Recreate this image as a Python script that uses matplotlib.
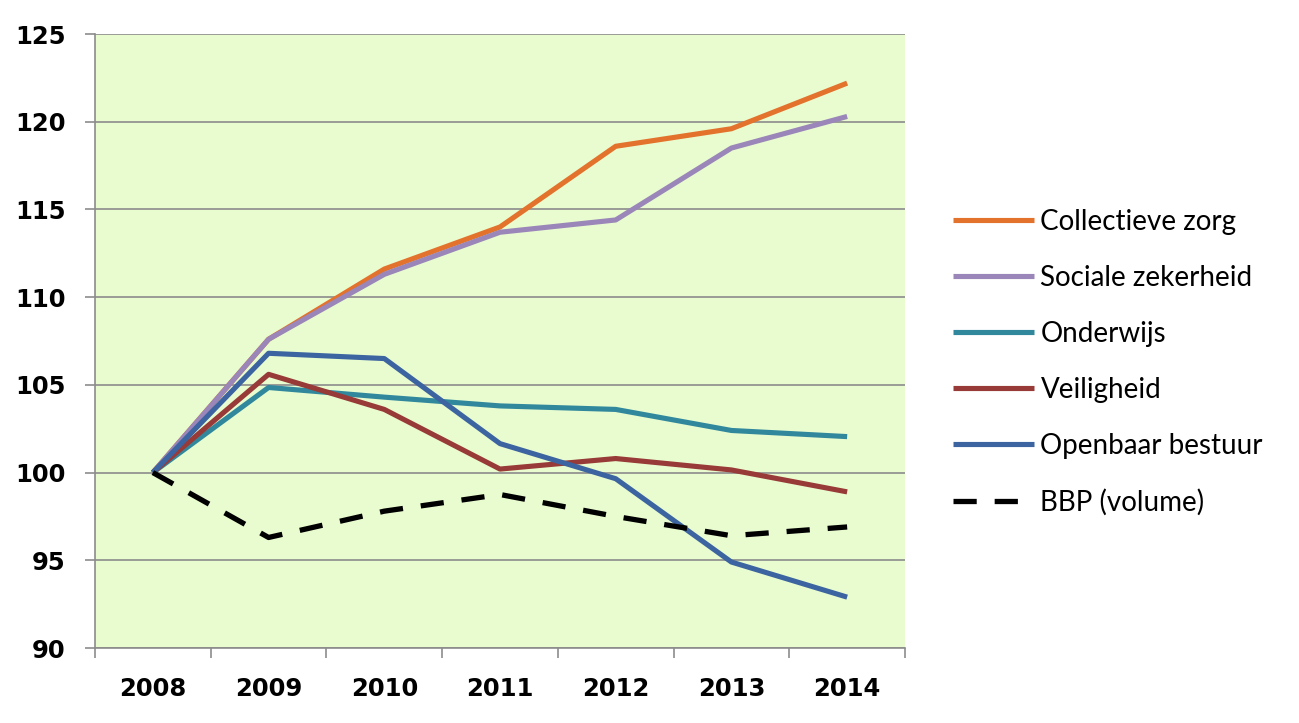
import matplotlib
matplotlib.use("Agg")
import matplotlib.pyplot as plt
from matplotlib.ticker import FixedLocator, NullFormatter

years = ["2008", "2009", "2010", "2011", "2012", "2013", "2014"]
collectieve_zorg = [100, 107.6, 111.6, 114.0, 118.6, 119.6, 122.2]
sociale_zekerheid = [100, 107.6, 111.3, 113.7, 114.4, 118.5, 120.3]
onderwijs = [100, 104.85, 104.3, 103.8, 103.6, 102.4, 102.05]
veiligheid = [100, 105.6, 103.6, 100.2, 100.8, 100.15, 98.9]
openbaar_bestuur = [100, 106.8, 106.5, 101.65, 99.65, 94.9, 92.9]
bbp_volume = [100, 96.3, 97.8, 98.75, 97.5, 96.4, 96.9]

series = [
    ("Collectieve zorg", collectieve_zorg, "#E3722C", "-"),
    ("Sociale zekerheid", sociale_zekerheid, "#9A86B8", "-"),
    ("Onderwijs", onderwijs, "#31889D", "-"),
    ("Veiligheid", veiligheid, "#983A37", "-"),
    ("Openbaar bestuur", openbaar_bestuur, "#3C64A0", "-"),
    ("BBP (volume)", bbp_volume, "#000000", "--"),
]

fig = plt.figure(figsize=(12.99, 7.23), dpi=100)
ax = fig.add_axes([95/1299, 1-648/723, (905-95)/1299, (648-34)/723])
ax.set_facecolor("#E9FCD0")

x = list(range(len(years)))
for name, vals, col, ls in series:
    if ls == "--":
        ax.plot(x, vals, color=col, lw=3.8, linestyle=(0, (4.4, 3.4)), label=name,
                dash_capstyle="butt")
    else:
        ax.plot(x, vals, color=col, lw=3.7, label=name, solid_joinstyle="round",
                solid_capstyle="butt")

ax.set_xlim(-0.5, len(years) - 0.5)
ax.set_ylim(90, 125)
ax.set_yticks(range(90, 126, 5))
ax.yaxis.grid(True, color="#8C8C8C", lw=1.2)
ax.set_axisbelow(True)

ax.xaxis.set_major_locator(FixedLocator([i - 0.5 for i in range(len(years) + 1)]))
ax.xaxis.set_major_formatter(NullFormatter())
ax.xaxis.set_minor_locator(FixedLocator(x))
ax.set_xticklabels(years, minor=True)
ax.tick_params(axis="x", which="minor", length=0, pad=21)
ax.tick_params(axis="x", which="major", length=7, width=1.2, color="#8C8C8C")
ax.tick_params(axis="y", length=7, width=1.2, color="#8C8C8C", pad=14)

for lab in ax.get_yticklabels() + ax.get_xticklabels(minor=True):
    lab.set_fontfamily("DejaVu Sans")
    lab.set_fontweight("bold")
    lab.set_fontsize(17.5)

for s in ["top", "right"]:
    ax.spines[s].set_visible(False)
for s in ["left", "bottom"]:
    ax.spines[s].set_color("#8C8C8C")
    ax.spines[s].set_linewidth(1.2)

leg = fig.legend(loc="center left", bbox_to_anchor=(928/1299, 1-362/723), frameon=False,
                 prop={"family": "Lato", "size": 20}, handlelength=2.9,
                 handletextpad=0.25, labelspacing=1.08)

fig.savefig("out.png", dpi=100)
